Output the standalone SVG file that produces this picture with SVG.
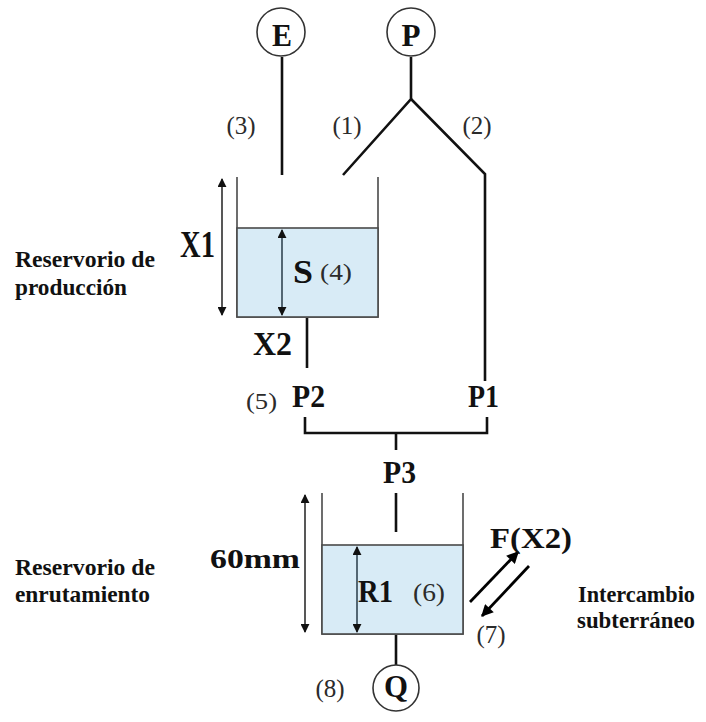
<svg xmlns="http://www.w3.org/2000/svg" width="706" height="722" viewBox="0 0 706 722">
<style>
.bg{fill:#ffffff}
.circ{fill:#ffffff;stroke:#333;stroke-width:1.6}
.wall{fill:none;stroke:#4a4a4a;stroke-width:1.6}
.water{fill:#d8ebf6;stroke:#4a4a4a;stroke-width:1.6}
.conn{fill:none;stroke:#111;stroke-width:2.6}
.dim{fill:none;stroke:#111;stroke-width:1.4}
.dimw{fill:none;stroke:#1c2e3c;stroke-width:1.4}
.exch{fill:none;stroke:#000;stroke-width:2.8}
.b{font-family:"Liberation Serif","Times New Roman",serif;font-weight:bold;fill:#111}
.n{font-family:"Liberation Serif","Times New Roman",serif;fill:#2b2b2b}
.c{text-anchor:middle}
</style>
<defs>
<marker id="ah" viewBox="0 0 10 10" refX="9" refY="5" markerWidth="9" markerHeight="9" markerUnits="userSpaceOnUse" orient="auto-start-reverse">
<path d="M0,0 L10,5 L0,10 z" fill="#111"/>
</marker>
<marker id="ahb" viewBox="0 0 10 10" refX="9" refY="5" markerWidth="14" markerHeight="12" markerUnits="userSpaceOnUse" orient="auto">
<path d="M0,0 L10,5 L0,10 z" fill="#000"/>
</marker>
</defs>
<rect class="bg" x="0" y="0" width="706" height="722"/>

<g id="connectors">
<line class="conn" x1="282" y1="57" x2="282" y2="175"/>
<polyline class="conn" points="411,57 411,99 343,175"/>
<polyline class="conn" points="411,99 485,174 485,381"/>
<line class="conn" x1="307" y1="318" x2="307" y2="368"/>
<polyline class="conn" points="305,417 305,433 487,433 487,417"/>
<line class="conn" x1="396" y1="433" x2="396" y2="450"/>
<line class="conn" x1="396" y1="493" x2="396" y2="532"/>
<line class="conn" x1="396" y1="635" x2="396" y2="665"/>
<line class="exch" x1="470" y1="602" x2="518" y2="552" marker-end="url(#ahb)"/>
<line class="exch" x1="529" y1="566" x2="482" y2="616" marker-end="url(#ahb)"/>
</g>

<g id="node-E">
<circle class="circ" cx="281" cy="32" r="24"/>
<text class="b c" x="282" y="46" font-size="31" textLength="20" lengthAdjust="spacingAndGlyphs">E</text>
</g>
<g id="node-P">
<circle class="circ" cx="411" cy="32" r="24"/>
<text class="b c" x="411" y="46" font-size="31" textLength="19" lengthAdjust="spacingAndGlyphs">P</text>
</g>

<g id="flow-labels-top">
<text class="n c" x="241" y="134" font-size="25">(3)</text>
<text class="n c" x="347" y="134" font-size="25">(1)</text>
<text class="n c" x="477" y="134" font-size="25">(2)</text>
</g>

<g id="production-reservoir">
<polyline class="wall" points="237,177 237,317 378,317 378,177"/>
<rect class="water" x="237" y="228" width="141" height="89"/>
<line class="dim" x1="222" y1="179" x2="222" y2="315" marker-start="url(#ah)" marker-end="url(#ah)"/>
<line class="dimw" x1="282" y1="230" x2="282" y2="315" marker-start="url(#ah)" marker-end="url(#ah)"/>
<text class="b" x="180" y="257" font-size="37" textLength="35" lengthAdjust="spacingAndGlyphs">X1</text>
<text class="b" x="293" y="283" font-size="34" textLength="20" lengthAdjust="spacingAndGlyphs" fill="#1c2833">S</text>
<text class="n" x="320" y="280" font-size="24" textLength="32" lengthAdjust="spacingAndGlyphs">(4)</text>
<text class="b" x="253" y="355" font-size="34" textLength="39" lengthAdjust="spacingAndGlyphs">X2</text>
</g>
<g id="label-production">
<text class="b" x="15" y="267" font-size="24" textLength="140" lengthAdjust="spacingAndGlyphs">Reservorio de</text>
<text class="b" x="15" y="295" font-size="24" textLength="112" lengthAdjust="spacingAndGlyphs">producción</text>
</g>

<g id="routing-split">
<text class="n" x="246" y="409" font-size="23" textLength="31" lengthAdjust="spacingAndGlyphs">(5)</text>
<text class="b" x="292" y="407" font-size="31" textLength="33" lengthAdjust="spacingAndGlyphs">P2</text>
<text class="b" x="468" y="407" font-size="31" textLength="31" lengthAdjust="spacingAndGlyphs">P1</text>
<text class="b" x="383" y="483" font-size="31" textLength="33" lengthAdjust="spacingAndGlyphs">P3</text>
</g>

<g id="routing-reservoir">
<polyline class="wall" points="322,493 322,634 463,634 463,493"/>
<rect class="water" x="322" y="545" width="141" height="89"/>
<line class="dim" x1="305" y1="495" x2="305" y2="632" marker-start="url(#ah)" marker-end="url(#ah)"/>
<line class="dimw" x1="357" y1="547" x2="357" y2="632" marker-start="url(#ah)" marker-end="url(#ah)"/>
<text class="b" x="210" y="568" font-size="28" textLength="90" lengthAdjust="spacingAndGlyphs">60mm</text>
<text class="b" x="358" y="602" font-size="31" textLength="35" lengthAdjust="spacingAndGlyphs" fill="#1c2833">R1</text>
<text class="n" x="413" y="601" font-size="25" textLength="32" lengthAdjust="spacingAndGlyphs">(6)</text>
</g>
<g id="label-routing">
<text class="b" x="15" y="575" font-size="24" textLength="140" lengthAdjust="spacingAndGlyphs">Reservorio de</text>
<text class="b" x="15" y="602" font-size="24" textLength="135" lengthAdjust="spacingAndGlyphs">enrutamiento</text>
</g>

<g id="exchange">
<text class="b" x="490" y="548" font-size="29" textLength="82" lengthAdjust="spacingAndGlyphs">F(X2)</text>
<text class="n c" x="491" y="643" font-size="25">(7)</text>
<text class="b" x="578" y="602" font-size="23" textLength="117" lengthAdjust="spacingAndGlyphs">Intercambio</text>
<text class="b" x="577" y="628" font-size="23" textLength="118" lengthAdjust="spacingAndGlyphs">subterráneo</text>
</g>

<g id="node-Q">
<circle class="circ" cx="396" cy="688" r="23"/>
<text class="b c" x="396" y="697" font-size="31" textLength="24" lengthAdjust="spacingAndGlyphs">Q</text>
<text class="n c" x="330" y="697" font-size="25">(8)</text>
</g>
</svg>
